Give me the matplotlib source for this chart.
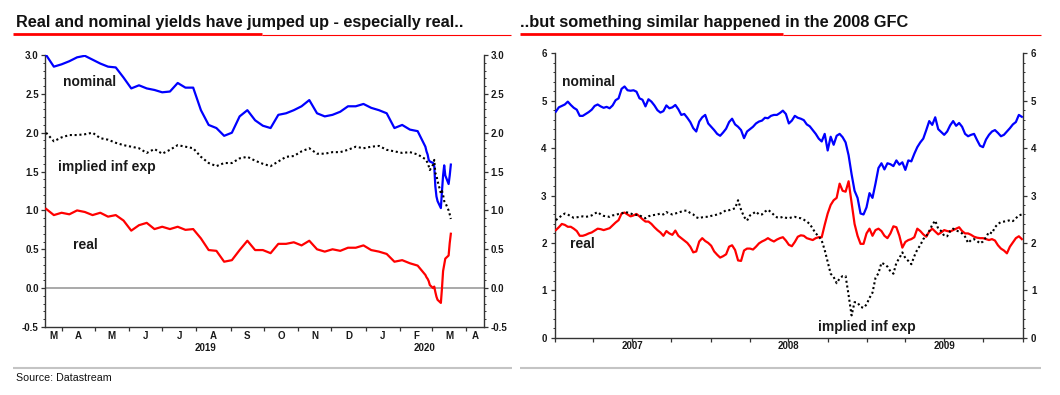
import matplotlib
matplotlib.use("Agg")
import matplotlib.pyplot as plt
import matplotlib.dates as mdates
from matplotlib.lines import Line2D
from matplotlib.ticker import MultipleLocator, FixedLocator, FixedFormatter, FuncFormatter, NullFormatter
import pandas as pd

plt.rcParams['font.family'] = ['Liberation Sans', 'DejaVu Sans']
plt.rcParams['font.weight'] = 'bold'

# ---------------- data: left chart (2019-2020) ----------------
left_dates = list(pd.date_range('2019-03-18', periods=50, freq='7D')) + list(pd.to_datetime([
    '2020-02-25', '2020-02-26', '2020-02-27', '2020-02-28', '2020-03-02', '2020-03-03',
    '2020-03-04', '2020-03-05', '2020-03-06', '2020-03-09', '2020-03-10', '2020-03-11',
    '2020-03-12', '2020-03-13', '2020-03-16', '2020-03-17', '2020-03-18']))

left_nominal = [3.00, 2.85, 2.88, 2.92, 2.97, 2.99, 2.94, 2.89, 2.85, 2.84,
                2.71, 2.57, 2.61, 2.57, 2.55, 2.52, 2.53, 2.64, 2.58, 2.58,
                2.29, 2.10, 2.06, 1.96, 2.00, 2.21, 2.29, 2.16, 2.09, 2.06,
                2.23, 2.25, 2.29, 2.34, 2.42, 2.25, 2.21, 2.23, 2.27, 2.34,
                2.34, 2.37, 2.32, 2.29, 2.25, 2.06, 2.10, 2.04, 2.02, 1.82,
                1.76, 1.72, 1.65, 1.63, 1.61, 1.57, 1.31, 1.18, 1.12, 1.03,
                1.25, 1.45, 1.58, 1.45, 1.34, 1.45, 1.59]
left_infl = [2.00, 1.89, 1.94, 1.97, 1.97, 1.98, 2.00, 1.93, 1.91, 1.87,
             1.84, 1.82, 1.80, 1.74, 1.79, 1.73, 1.78, 1.84, 1.82, 1.80,
             1.69, 1.61, 1.57, 1.61, 1.61, 1.67, 1.69, 1.64, 1.60, 1.57,
             1.63, 1.69, 1.70, 1.76, 1.80, 1.73, 1.73, 1.75, 1.75, 1.78,
             1.82, 1.80, 1.82, 1.83, 1.78, 1.76, 1.74, 1.75, 1.72, 1.66,
             1.64, 1.61, 1.57, 1.52, 1.59, 1.65, 1.48, 1.45, 1.38, 1.22,
             1.25, 1.20, 1.12, 1.10, 1.00, 0.95, 0.89]
left_real = [1.02, 0.94, 0.97, 0.95, 1.00, 0.98, 0.94, 0.97, 0.92, 0.94,
             0.87, 0.74, 0.81, 0.84, 0.76, 0.79, 0.76, 0.79, 0.75, 0.76,
             0.64, 0.49, 0.48, 0.34, 0.36, 0.49, 0.61, 0.49, 0.49, 0.45,
             0.57, 0.57, 0.59, 0.55, 0.61, 0.50, 0.47, 0.50, 0.48, 0.52,
             0.52, 0.55, 0.49, 0.47, 0.44, 0.34, 0.36, 0.32, 0.29, 0.17,
             0.14, 0.12, 0.09, 0.04, 0.00, 0.02, -0.05, -0.11, -0.15, -0.19,
             0.00, 0.22, 0.30, 0.38, 0.42, 0.58, 0.70]
left_months = ['M', 'A', 'M', 'J', 'J', 'A', 'S', 'O', 'N', 'D', 'J', 'F', 'M', 'A']
left_years = ['2019', '2020']

# ---------------- data: right chart (2007-2009) ----------------
right_dates = pd.date_range('2007-01-03', periods=157, freq='7D')
right_nominal = [4.77, 4.86, 4.89, 4.92, 4.98, 4.91, 4.85, 4.81, 4.68, 4.68,
                 4.72, 4.76, 4.81, 4.89, 4.92, 4.88, 4.85, 4.87, 4.84, 4.90,
                 5.01, 5.05, 5.25, 5.30, 5.22, 5.21, 5.22, 5.19, 5.05, 5.02,
                 4.88, 5.03, 4.98, 4.90, 4.80, 4.75, 4.78, 4.90, 4.84, 4.86,
                 4.91, 4.82, 4.70, 4.72, 4.64, 4.55, 4.42, 4.35, 4.56, 4.65,
                 4.70, 4.52, 4.45, 4.38, 4.30, 4.26, 4.33, 4.41, 4.55, 4.62,
                 4.50, 4.45, 4.38, 4.21, 4.35, 4.40, 4.45, 4.52, 4.56, 4.58,
                 4.64, 4.63, 4.68, 4.70, 4.70, 4.74, 4.79, 4.72, 4.52, 4.58,
                 4.68, 4.64, 4.62, 4.59, 4.50, 4.46, 4.38, 4.30, 4.20, 4.14,
                 4.30, 3.95, 4.24, 4.07, 4.26, 4.30, 4.23, 4.12, 3.85, 3.45,
                 3.10, 2.95, 2.62, 2.60, 2.75, 3.05, 2.95, 3.25, 3.58, 3.68,
                 3.55, 3.68, 3.66, 3.62, 3.74, 3.65, 3.70, 3.54, 3.74, 3.72,
                 3.88, 4.02, 4.12, 4.20, 4.38, 4.57, 4.49, 4.65, 4.40, 4.34,
                 4.28, 4.35, 4.48, 4.57, 4.47, 4.53, 4.45, 4.30, 4.25, 4.28,
                 4.30, 4.17, 4.05, 4.02, 4.18, 4.28, 4.35, 4.38, 4.32, 4.25,
                 4.28, 4.35, 4.42, 4.50, 4.55, 4.70, 4.66]
right_real = [2.27, 2.33, 2.40, 2.38, 2.34, 2.34, 2.30, 2.25, 2.15, 2.15,
              2.17, 2.20, 2.22, 2.26, 2.30, 2.29, 2.27, 2.29, 2.31, 2.37,
              2.43, 2.48, 2.62, 2.64, 2.60, 2.56, 2.58, 2.61, 2.56, 2.50,
              2.45, 2.45, 2.40, 2.33, 2.27, 2.22, 2.15, 2.25, 2.20, 2.17,
              2.26, 2.15, 2.10, 2.05, 2.00, 1.92, 1.80, 1.82, 2.03, 2.10,
              2.04, 2.00, 1.94, 1.82, 1.75, 1.69, 1.72, 1.76, 1.92, 1.95,
              1.85, 1.63, 1.62, 1.84, 1.88, 1.88, 1.86, 1.92, 1.99, 2.03,
              2.06, 2.10, 2.06, 2.03, 2.07, 2.10, 2.12, 2.05, 1.96, 1.93,
              2.02, 2.13, 2.16, 2.15, 2.10, 2.08, 2.06, 2.10, 2.12, 2.12,
              2.38, 2.62, 2.80, 2.90, 2.95, 3.25, 3.10, 3.08, 3.30, 2.85,
              2.40, 2.15, 1.98, 1.98, 2.20, 2.30, 2.15, 2.27, 2.30, 2.25,
              2.15, 2.10, 2.20, 2.35, 2.33, 2.15, 1.90, 2.02, 2.06, 2.08,
              2.12, 2.30, 2.25, 2.18, 2.13, 2.24, 2.30, 2.24, 2.18, 2.22,
              2.27, 2.25, 2.24, 2.27, 2.30, 2.33, 2.25, 2.20, 2.20, 2.17,
              2.13, 2.11, 2.10, 2.10, 2.08, 2.06, 2.08, 2.05, 1.95, 1.88,
              1.84, 1.78, 1.92, 2.01, 2.10, 2.14, 2.08]
right_infl = [2.48, 2.53, 2.58, 2.62, 2.60, 2.56, 2.53, 2.54, 2.55, 2.56,
              2.55, 2.56, 2.58, 2.62, 2.65, 2.60, 2.57, 2.56, 2.55, 2.58,
              2.59, 2.61, 2.62, 2.65, 2.64, 2.62, 2.60, 2.59, 2.58, 2.55,
              2.52, 2.56, 2.58, 2.59, 2.60, 2.62, 2.60, 2.65, 2.62, 2.60,
              2.62, 2.64, 2.66, 2.68, 2.68, 2.63, 2.60, 2.54, 2.52, 2.54,
              2.55, 2.55, 2.57, 2.58, 2.60, 2.62, 2.65, 2.69, 2.69, 2.71,
              2.73, 2.90, 2.70, 2.55, 2.47, 2.58, 2.62, 2.66, 2.60, 2.60,
              2.66, 2.70, 2.65, 2.59, 2.54, 2.53, 2.55, 2.53, 2.52, 2.54,
              2.55, 2.53, 2.52, 2.49, 2.45, 2.40, 2.30, 2.20, 2.14, 2.05,
              1.85, 1.60, 1.35, 1.28, 1.15, 1.25, 1.30, 1.30, 0.90, 0.47,
              0.75, 0.74, 0.65, 0.63, 0.70, 0.84, 0.95, 1.26, 1.36, 1.58,
              1.55, 1.50, 1.40, 1.35, 1.58, 1.68, 1.80, 1.68, 1.62, 1.55,
              1.72, 1.86, 1.95, 2.08, 2.14, 2.25, 2.38, 2.47, 2.30, 2.25,
              2.15, 2.14, 2.25, 2.30, 2.26, 2.24, 2.20, 2.13, 2.00, 2.06,
              2.08, 2.04, 1.99, 2.03, 2.12, 2.23, 2.20, 2.33, 2.40, 2.44,
              2.45, 2.46, 2.48, 2.46, 2.52, 2.58, 2.60]
right_years = ['2007', '2008', '2009']

# ---------------- figure ----------------
W, H = 1060, 395
fig = plt.figure(figsize=(W / 100, H / 100), dpi=100)


def fx(x):
    return x / W


def fy(y):
    return 1 - y / H


BLUE, RED, BLACK = '#0000ff', '#ff0000', '#000000'
SPINE = '#333333'
TXT = '#1a1a1a'


def style_axes(ax):
    ax.spines['top'].set_visible(False)
    for s in ('left', 'right', 'bottom'):
        ax.spines[s].set_color(SPINE)
        ax.spines[s].set_linewidth(1.0)
    ax.tick_params(axis='y', which='both', left=True, right=True, labelleft=True,
                   labelright=True, direction='out', colors=SPINE, labelcolor=TXT,
                   labelsize=7, pad=1.5)
    ax.tick_params(axis='y', which='major', length=3, width=0.9)
    ax.tick_params(axis='y', which='minor', length=1.6, width=0.7)


def fmt1(v, pos):
    if abs(v) < 1e-9:
        v = 0.0
    return f"{v:.1f}"


# ---- left axes ----
axL = fig.add_axes([fx(45), fy(327), (484 - 45) / W, (327 - 55) / H])
xminL, xmaxL = pd.Timestamp('2019-03-17'), pd.Timestamp('2020-04-17')
axL.axhline(0, color='#a9a9a9', lw=1.4, zorder=1)
axL.plot(left_dates, left_nominal, color=BLUE, lw=1.6, zorder=3)
axL.plot(left_dates, left_real, color=RED, lw=1.6, zorder=3)
axL.plot(left_dates, left_infl, color=BLACK, lw=1.5, ls=(0, (1, 1.3)), zorder=4)
axL.set_xlim(xminL, xmaxL)
axL.set_ylim(-0.5, 3.0)
style_axes(axL)
axL.yaxis.set_major_locator(MultipleLocator(0.5))
axL.yaxis.set_minor_locator(MultipleLocator(0.1))
axL.yaxis.set_major_formatter(FuncFormatter(fmt1))

month_starts = list(pd.date_range('2019-04-01', '2020-04-01', freq='MS'))
axL.set_xticks(month_starts)
axL.xaxis.set_major_formatter(NullFormatter())
edges = [xminL] + month_starts + [xmaxL]
mids = [edges[i] + (edges[i + 1] - edges[i]) / 2 for i in range(len(edges) - 1)]
axL.xaxis.set_minor_locator(FixedLocator(mdates.date2num(mids)))
axL.xaxis.set_minor_formatter(FixedFormatter(left_months))
axL.tick_params(axis='x', which='major', length=3, width=0.9, direction='out', colors=SPINE)
axL.tick_params(axis='x', which='minor', length=0, pad=3, labelsize=7, labelcolor=TXT)

yb = [xminL, pd.Timestamp('2020-01-01'), xmaxL]
for i, lab in enumerate(left_years):
    mid = yb[i] + (yb[i + 1] - yb[i]) / 2
    axL.annotate(lab, xy=(mdates.date2num(mid), 0), xycoords=('data', 'axes fraction'),
                 xytext=(0, -14.9), textcoords='offset points', ha='center', va='center',
                 fontsize=7, color=TXT, fontweight='bold')

# ---- right axes ----
axR = fig.add_axes([fx(555), fy(337.7), (1022.7 - 555) / W, (337.7 - 53.3) / H])
axR.plot(right_dates, right_nominal, color=BLUE, lw=1.6, zorder=3)
axR.plot(right_dates, right_real, color=RED, lw=1.6, zorder=3)
axR.plot(right_dates, right_infl, color=BLACK, lw=1.5, ls=(0, (1, 1.3)), zorder=4)
axR.set_xlim(pd.Timestamp('2007-01-01'), pd.Timestamp('2010-01-01'))
axR.set_ylim(0, 6)
style_axes(axR)
axR.yaxis.set_major_locator(MultipleLocator(1))
axR.yaxis.set_minor_locator(MultipleLocator(0.2))
axR.yaxis.set_major_formatter(FuncFormatter(lambda v, p: f"{int(round(v))}"))
axR.tick_params(axis='y', which='major', pad=3)
quarters = list(pd.date_range('2007-01-01', '2010-01-01', freq='QS'))
axR.set_xticks(quarters)
axR.xaxis.set_major_formatter(NullFormatter())
axR.tick_params(axis='x', which='major', length=3, width=0.9, direction='out', colors=SPINE)
for i, lab in enumerate(right_years):
    mid = pd.Timestamp(f'{2007 + i}-07-01')
    axR.annotate(lab, xy=(mdates.date2num(mid), 0), xycoords=('data', 'axes fraction'),
                 xytext=(0, -6.0), textcoords='offset points', ha='center', va='center',
                 fontsize=7, color=TXT, fontweight='bold')

# ---- series labels ----
lab_kw = dict(fontsize=10, fontweight='bold', color=TXT, va='baseline', ha='left')
fig.text(fx(63), fy(86), 'nominal', **lab_kw)
fig.text(fx(58), fy(171.5), 'implied inf exp', **lab_kw)
fig.text(fx(73), fy(249), 'real', **lab_kw)
fig.text(fx(562), fy(85.5), 'nominal', **lab_kw)
fig.text(fx(570), fy(247.5), 'real', **lab_kw)
fig.text(fx(818), fy(331), 'implied inf exp', **lab_kw)

# ---- titles and decorations ----
fig.text(fx(16), fy(27), 'Real and nominal yields have jumped up - especially real..',
         fontsize=11.7, fontweight='bold', color='#111111', va='baseline', ha='left')
fig.text(fx(520), fy(27), '..but something similar happened in the 2008 GFC',
         fontsize=11.8, fontweight='bold', color='#111111', va='baseline', ha='left')


def hline(x0, x1, y, color, lw):
    fig.add_artist(Line2D([fx(x0), fx(x1)], [fy(y), fy(y)], transform=fig.transFigure,
                          color=color, lw=lw, solid_capstyle='butt'))


hline(262, 511, 35.2, '#ff0000', 0.8)
hline(13, 262, 34.0, '#ff0000', 2.0)
hline(783, 1041, 35.2, '#ff0000', 0.8)
hline(520, 783, 34.0, '#ff0000', 2.0)
hline(13, 512, 368, '#c4c4c4', 1.5)
hline(520, 1041, 368, '#c4c4c4', 1.5)

fig.text(fx(16), fy(378), 'Source: Datastream', fontsize=7.7, fontweight='normal',
         color='#111111', va='center', ha='left')

fig.savefig('out.png', dpi=100)
